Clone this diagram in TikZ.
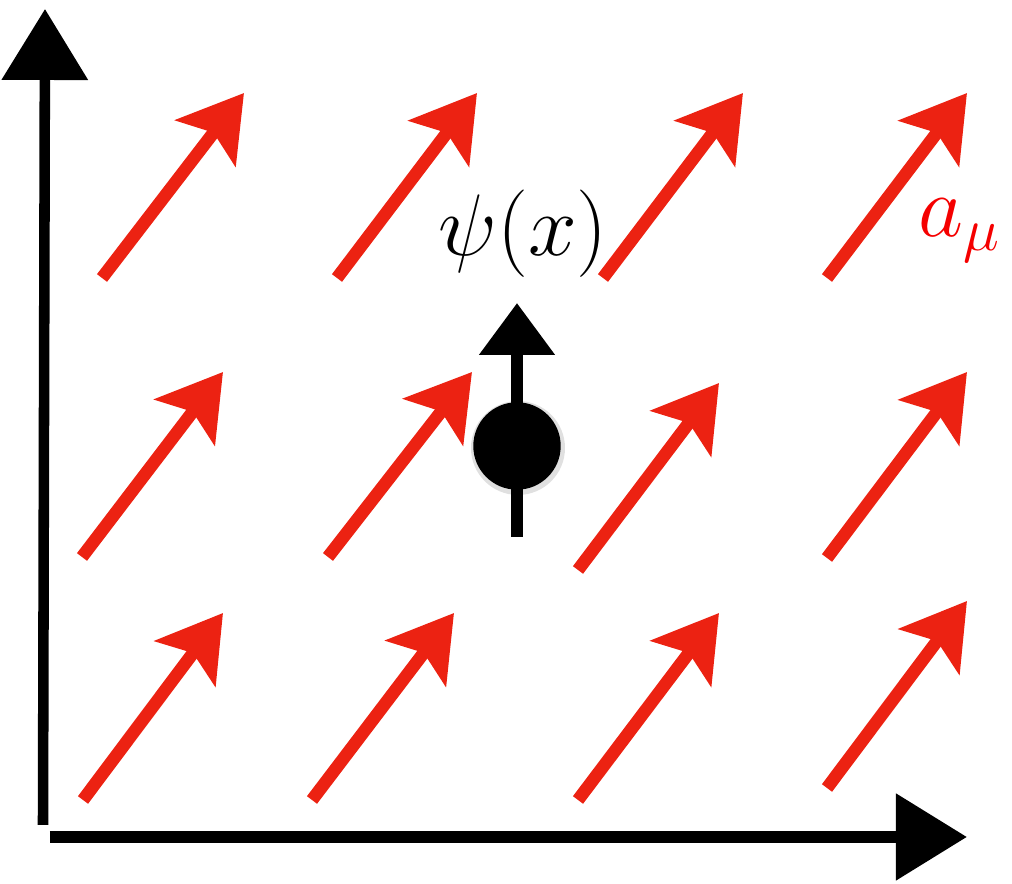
\documentclass[tikz,border=0pt]{standalone}
\usepackage{tikz}
\definecolor{ptred}{RGB}{236, 34, 18}
\definecolor{labred}{RGB}{245, 0, 0}
\usetikzlibrary{arrows.meta}

\begin{document}
\begin{tikzpicture}[
    field/.style={draw=ptred, line width=3.6pt,
      -{Stealth[length=6.3mm, width=7.5mm, inset=1.3mm]}},
    axis/.style={line width=3pt, -{Triangle[length=7.1mm, width=8.4mm]}},
    spin/.style={line width=3.4pt, -{Triangle[length=5.2mm, width=7.3mm]}},
    big/.style={font=\fontsize{26}{30}\selectfont, inner sep=0pt, anchor=base}
  ]
    \useasboundingbox (0,0) rectangle (10.12,8.84);
    % Eixos
    \draw[axis] (0.43,0.59) -- (0.45,8.75);
    \draw[axis, line width=3.4pt] (0.50,0.47) -- (9.67,0.47);
    % Campo de gauge
    \draw[field] (1.02,6.06) -- ++(1.42,1.85);
    \draw[field] (3.37,6.06) -- ++(1.40,1.85);
    \draw[field] (6.03,6.06) -- ++(1.40,1.85);
    \draw[field] (8.27,6.06) -- ++(1.40,1.85);
    \draw[field] (0.82,3.27) -- ++(1.41,1.85);
    \draw[field] (3.28,3.27) -- ++(1.44,1.85);
    \draw[field] (5.78,3.14) -- ++(1.41,1.87);
    \draw[field] (8.27,3.26) -- ++(1.40,1.86);
    \draw[field] (0.83,0.84) -- ++(1.40,1.87);
    \draw[field] (3.12,0.84) -- ++(1.42,1.87);
    \draw[field] (5.78,0.84) -- ++(1.41,1.87);
    \draw[field] (8.27,0.96) -- ++(1.40,1.87);
    % Particula
    \draw[spin] (5.17,3.47) -- (5.17,5.81);
    \fill[black, opacity=0.12] (5.18,4.36) circle (0.47);
    \node[draw, fill=black, circle, minimum size=8.6mm, inner sep=0pt] (psi) at (5.17,4.38) {};
    \node[big] (psilab) at (5.23,6.28) {$\psi(x)$};
    \node[big, text=labred] (alab) at (9.60,6.47) {$a_\mu$};
  \end{tikzpicture}
\end{document}
